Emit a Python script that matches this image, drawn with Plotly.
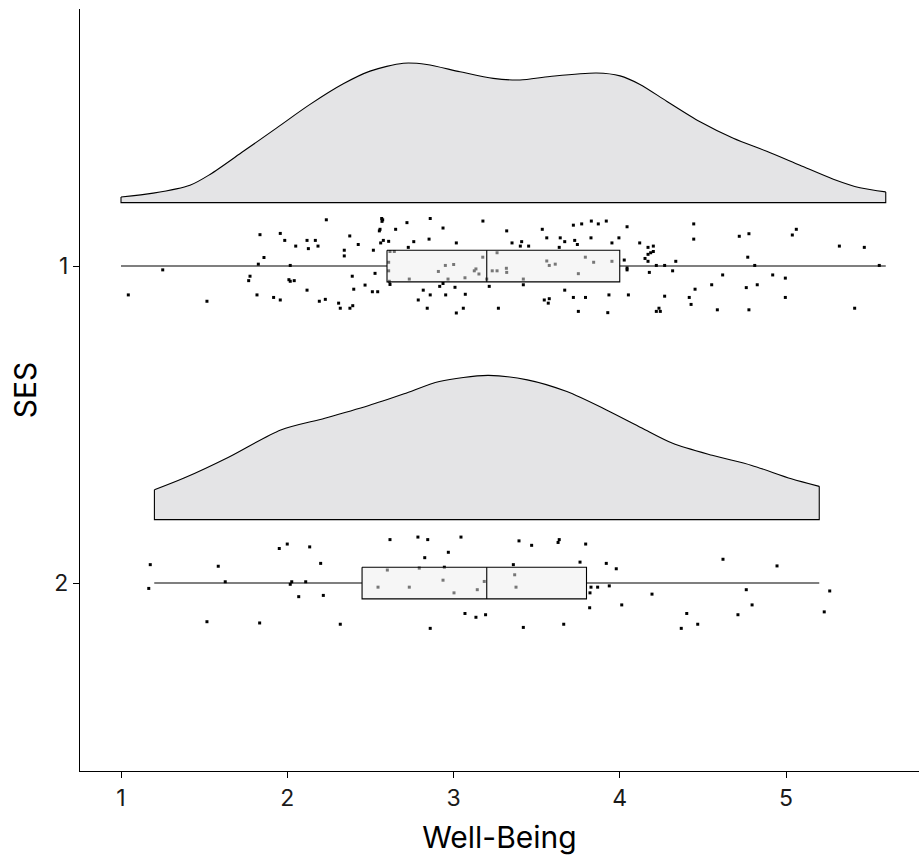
import plotly.graph_objects as go

# ---------------- data ----------------
groups = ["1", "2"]
group_pos = [1, 2]

# density estimates (x grid, scaled density height in axis units)
dens1_x = [1.000, 1.194, 1.415, 1.535, 1.736, 1.937, 2.137, 2.337, 2.498, 2.698, 2.839, 3.039, 3.239,
           3.400, 3.580, 3.861, 4.002, 4.122, 4.282, 4.483, 4.683, 4.884, 5.084, 5.285, 5.445, 5.600]
dens1_h = [0.018, 0.030, 0.055, 0.089, 0.162, 0.236, 0.310, 0.375, 0.415, 0.440, 0.436, 0.413, 0.392,
           0.387, 0.398, 0.409, 0.400, 0.373, 0.320, 0.255, 0.203, 0.162, 0.118, 0.074, 0.047, 0.034]
dens2_x = [1.201, 1.379, 1.644, 1.961, 2.226, 2.491, 2.703, 2.915, 3.206, 3.444, 3.682, 3.920, 4.133,
           4.318, 4.556, 4.794, 5.032, 5.200]
dens2_h = [0.094, 0.131, 0.196, 0.283, 0.320, 0.360, 0.397, 0.436, 0.455, 0.441, 0.404, 0.346, 0.289,
           0.241, 0.203, 0.171, 0.129, 0.105]

# boxplot stats: lower whisker, q1, median, q3, upper whisker
box1 = [1.0, 2.6, 3.2, 4.0, 5.6]
box2 = [1.2, 2.45, 3.2, 3.8, 5.2]

# raw observations (x) and their vertical jitter offsets
pts1_x = [1.044, 1.251, 1.517, 1.836, 1.958, 1.985, 2.051, 1.860, 1.826, 2.018, 1.776, 1.768, 2.010, 2.018,
          2.042, 1.818, 1.918, 1.958, 2.235, 2.568, 2.574, 2.570, 2.720, 2.860, 3.177, 2.937, 2.558, 2.554,
          2.652, 2.376, 2.119, 2.169, 2.578, 2.610, 2.562, 2.761, 2.853, 3.017, 2.185, 2.427, 2.728, 2.127,
          2.343, 2.518, 2.618, 2.644, 2.343, 3.176, 2.610, 2.951, 3.001, 3.135, 3.125, 3.153, 2.909, 2.610,
          3.069, 2.734, 2.967, 2.614, 2.528, 2.391, 2.618, 2.937, 2.917, 3.009, 3.215, 2.119, 2.400, 2.468,
          2.512, 2.544, 2.818, 2.860, 2.953, 3.071, 2.788, 2.229, 2.193, 2.309, 2.394, 2.377, 2.319, 2.842,
          3.059, 3.017, 3.320, 3.534, 3.721, 3.771, 3.829, 3.871, 3.919, 4.044, 3.561, 3.642, 3.669, 3.729,
          3.745, 3.827, 3.995, 3.352, 3.410, 3.402, 3.452, 3.636, 3.953, 4.120, 4.170, 4.202, 4.202, 4.186,
          4.170, 4.152, 4.170, 3.262, 3.561, 3.576, 3.612, 3.793, 3.843, 3.953, 3.318, 3.320, 3.233, 3.262,
          3.751, 3.420, 3.200, 4.027, 4.044, 4.044, 4.220, 4.270, 4.337, 4.318, 4.178, 3.420, 3.669, 3.546,
          3.576, 3.570, 3.721, 3.794, 3.935, 4.052, 4.270, 3.270, 3.751, 3.928, 4.236, 4.220, 4.244, 4.445,
          4.445, 4.719, 4.777, 4.770, 4.812, 5.062, 5.038, 5.321, 5.471, 5.561, 4.619, 4.920, 4.996, 4.553,
          4.761, 4.827, 4.453, 4.418, 4.996, 4.429, 4.587, 4.777, 5.413]
pts1_j = [0.091, 0.012, 0.111, -0.099, -0.103, -0.081, -0.063, -0.027, -0.006, -0.002, 0.032, 0.046, 0.043,
          0.048, 0.046, 0.091, 0.099, 0.107, -0.146, -0.150, -0.146, -0.141, -0.137, -0.150, -0.142, -0.120,
          -0.116, -0.111, -0.116, -0.095, -0.081, -0.081, -0.081, -0.078, -0.073, -0.077, -0.085, -0.073,
          -0.063, -0.068, -0.059, -0.055, -0.050, -0.050, -0.046, -0.046, -0.032, -0.028, -0.012, -0.002,
          -0.005, 0.009, 0.015, 0.025, 0.017, 0.015, 0.037, 0.041, 0.041, 0.048, 0.023, 0.032, 0.058, 0.055,
          0.064, 0.067, 0.064, 0.076, 0.073, 0.060, 0.081, 0.081, 0.076, 0.091, 0.091, 0.089, 0.107, 0.105,
          0.111, 0.117, 0.125, 0.133, 0.133, 0.133, 0.133, 0.148, -0.111, -0.116, -0.129, -0.133, -0.142,
          -0.133, -0.142, -0.124, -0.089, -0.089, -0.077, -0.081, -0.068, -0.089, -0.089, -0.073, -0.077,
          -0.063, -0.063, -0.059, -0.073, -0.073, -0.059, -0.063, -0.046, -0.042, -0.037, -0.024, -0.015,
          -0.042, -0.016, -0.002, -0.006, -0.028, -0.012, -0.015, 0.007, 0.020, 0.015, 0.015, 0.024, 0.041,
          0.041, -0.019, 0.006, 0.012, -0.002, -0.002, -0.015, 0.015, 0.020, 0.059, 0.076, 0.107, 0.103,
          0.117, 0.099, 0.099, 0.091, 0.091, 0.095, 0.133, 0.143, 0.147, 0.133, 0.143, 0.143, -0.133, -0.085,
          -0.094, -0.102, -0.028, -0.002, -0.116, -0.098, -0.063, -0.059, -0.002, 0.028, 0.028, 0.038, 0.059,
          0.068, 0.059, 0.073, 0.099, 0.099, 0.121, 0.138, 0.138, 0.133]

pts2_x = [1.176, 1.167, 1.585, 1.627, 1.952, 2.000, 2.135, 2.201, 2.027, 2.018, 2.111, 2.069, 2.217, 1.517,
          1.834, 2.319, 2.618, 2.786, 2.845, 3.045, 2.969, 2.827, 3.394, 3.470, 3.636, 3.629, 3.795, 3.761,
          3.360, 2.945, 2.794, 2.602, 3.368, 3.185, 2.937, 2.546, 2.734, 3.376, 3.143, 3.003, 3.827, 3.867,
          3.821, 3.819, 3.069, 3.135, 3.193, 2.860, 3.420, 3.663, 3.919, 3.979, 3.937, 4.194, 4.012, 4.403,
          4.370, 4.469, 4.621, 4.761, 4.796, 4.711, 4.946, 5.263, 5.230]
pts2_j = [-0.058, 0.017, -0.053, -0.004, -0.109, -0.123, -0.114, -0.062, -0.004, 0.004, -0.004, 0.043, 0.039,
          0.122, 0.126, 0.130, -0.137, -0.145, -0.137, -0.145, -0.097, -0.080, -0.133, -0.119, -0.137, -0.128,
          -0.123, -0.066, -0.058, -0.050, -0.047, -0.041, -0.026, -0.005, -0.009, 0.013, 0.013, 0.013, 0.021,
          0.031, 0.013, 0.013, 0.031, 0.078, 0.096, 0.108, 0.100, 0.143, 0.140, 0.130, -0.062, -0.045, 0.009,
          0.035, 0.069, 0.096, 0.143, 0.130, -0.075, 0.021, 0.069, 0.100, -0.054, 0.025, 0.091]

x_ticks = [1, 2, 3, 4, 5]

# ---------------- styling constants ----------------
NUDGE = 0.2        # cloud offset from category centre
BOX_HALF = 0.05    # half height of box
FILL = "#e4e4e6"
BOX_FILL = "rgba(238,238,238,0.5)"

fig = go.Figure()

def add_group(pos, dx, dh, box, px, pj):
    base = pos - NUDGE
    fig.add_trace(go.Scatter(x=[dx[0], dx[-1]], y=[base, base], mode="lines",
                             line=dict(width=0), hoverinfo="skip", showlegend=False))
    fig.add_trace(go.Scatter(x=dx, y=[base - h for h in dh], mode="lines", fill="tonexty",
                             fillcolor=FILL, line=dict(color="black", width=1.1, shape="spline", smoothing=0.8),
                             hoverinfo="skip", showlegend=False))
    fig.add_trace(go.Scatter(x=[dx[0], dx[0], dx[-1], dx[-1]],
                             y=[base - dh[0], base, base, base - dh[-1]], mode="lines",
                             line=dict(color="black", width=1.1), hoverinfo="skip", showlegend=False))
    fig.add_trace(go.Scatter(x=[box[0], box[1], None, box[3], box[4]], y=[pos, pos, None, pos, pos],
                             mode="lines", line=dict(color="black", width=1.1),
                             hoverinfo="skip", showlegend=False))
    fig.add_trace(go.Scatter(x=px, y=[pos + j for j in pj], mode="markers",
                             marker=dict(symbol="square", size=3, color="black", line=dict(width=0)),
                             hoverinfo="skip", showlegend=False))
    fig.add_trace(go.Scatter(x=[box[1], box[3], box[3], box[1], box[1]],
                             y=[pos - BOX_HALF, pos - BOX_HALF, pos + BOX_HALF, pos + BOX_HALF, pos - BOX_HALF],
                             mode="lines", fill="toself", fillcolor=BOX_FILL,
                             line=dict(color="black", width=1.1), hoverinfo="skip", showlegend=False))
    fig.add_trace(go.Scatter(x=[box[2], box[2]], y=[pos - BOX_HALF, pos + BOX_HALF], mode="lines",
                             line=dict(color="black", width=1.1), hoverinfo="skip", showlegend=False))

add_group(group_pos[0], dens1_x, dens1_h, box1, pts1_x, pts1_j)
add_group(group_pos[1], dens2_x, dens2_h, box2, pts2_x, pts2_j)

FONT = "Inter, Lato, sans-serif"

fig.update_layout(
    width=919, height=861,
    margin=dict(l=80, r=0, t=9, b=90),
    plot_bgcolor="white", paper_bgcolor="white",
    font=dict(family=FONT, color="black"),
    xaxis=dict(range=[0.7534, 5.8], tickvals=x_ticks, ticktext=[str(t) for t in x_ticks],
               showgrid=False, zeroline=False, showline=True, linecolor="black", linewidth=1.3,
               ticks="outside", ticklen=6, tickwidth=1, tickcolor="black",
               tickfont=dict(size=23, color="#1a1a1a"),
               title=dict(text="Well-Being", font=dict(size=30), standoff=16)),
    yaxis=dict(range=[2.593, 0.189], tickvals=group_pos, ticktext=groups,
               showgrid=False, zeroline=False, showline=True, linecolor="black", linewidth=1.3,
               ticks="outside", ticklen=6, tickwidth=1, tickcolor="black",
               tickfont=dict(size=23, color="#1a1a1a"),
               title=dict(text="SES", font=dict(size=30), standoff=8)),
)

fig.write_html("out.html")
